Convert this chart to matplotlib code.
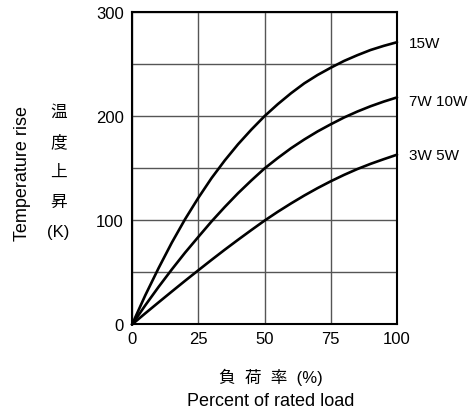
import matplotlib
matplotlib.use('Agg')
import matplotlib.pyplot as plt

plt.rcParams['font.family'] = ['Liberation Sans', 'Noto Sans CJK JP', 'DejaVu Sans']

# 負荷率 (%)
carga = [0, 5, 10, 15, 20, 25, 30, 35, 40, 45, 50, 55, 60, 65, 70, 75, 80, 85, 90, 95, 100]
# curvas
w15 = [0, 28, 54, 78.5, 101, 121.5, 140.5, 157.5, 173, 187, 200,
       211.5, 222, 231.5, 239.5, 246.5, 253, 258.5, 263.5, 267.5, 271]
w7_10 = [0, 18.4, 36, 52.8, 68.9, 84, 98.9, 112.8, 126, 138.2, 149.8,
         159.8, 169.2, 177.6, 185.3, 192.2, 198.7, 204.4, 209.5, 214, 218]
w3_5 = [0, 10.7, 21.2, 31.6, 41.9, 52, 62, 71.8, 81.3, 90.6, 99.7,
        108.2, 116.2, 123.8, 130.9, 137.5, 143.6, 149.2, 154.2, 158.7, 163]

series = [('15W', w15, 270), ('7W 10W', w7_10, 215), ('3W 5W', w3_5, 163)]

fig = plt.figure(figsize=(4.7, 4.14), dpi=100)
ax = fig.add_axes([0.2809, 0.2138, 0.5638, 0.7548])

for nombre, vals, y_txt in series:
    ax.plot(carga, vals, color='black', lw=1.9, solid_capstyle='round',
            solid_joinstyle='round', clip_on=False, zorder=3)
    ax.text(104.5, y_txt, nombre, fontsize=11, va='center', ha='left', clip_on=False)

ax.set_xlim(0, 100)
ax.set_ylim(0, 300)
ax.set_xticks([0, 25, 50, 75, 100])
ax.set_yticks([0, 50, 100, 150, 200, 250, 300])
ax.set_yticklabels(['0', '', '100', '', '200', '', '300'])
ax.tick_params(length=0, labelsize=12)
ax.tick_params(axis='y', pad=6)
ax.tick_params(axis='x', pad=5)
ax.grid(True, color='#555555', lw=1.0)
for s in ax.spines.values():
    s.set_linewidth(1.5)
    s.set_color('black')

fig.text(0.047, 0.58, 'Temperature rise', rotation=90, fontsize=13, ha='center', va='center')
for i, ch in enumerate(['温', '度', '上', '昇', '(K)']):
    fig.text(0.124, 1 - (112 + 30 * i) / 414, ch, fontsize=12, ha='center', va='center')

fig.text(0.577, 1 - 377 / 414, '負  荷  率  (%)', fontsize=12, ha='center', va='center')
fig.text(0.575, 1 - 402 / 414, 'Percent of rated load', fontsize=13, ha='center', va='center')

fig.savefig('out.png', dpi=100)
